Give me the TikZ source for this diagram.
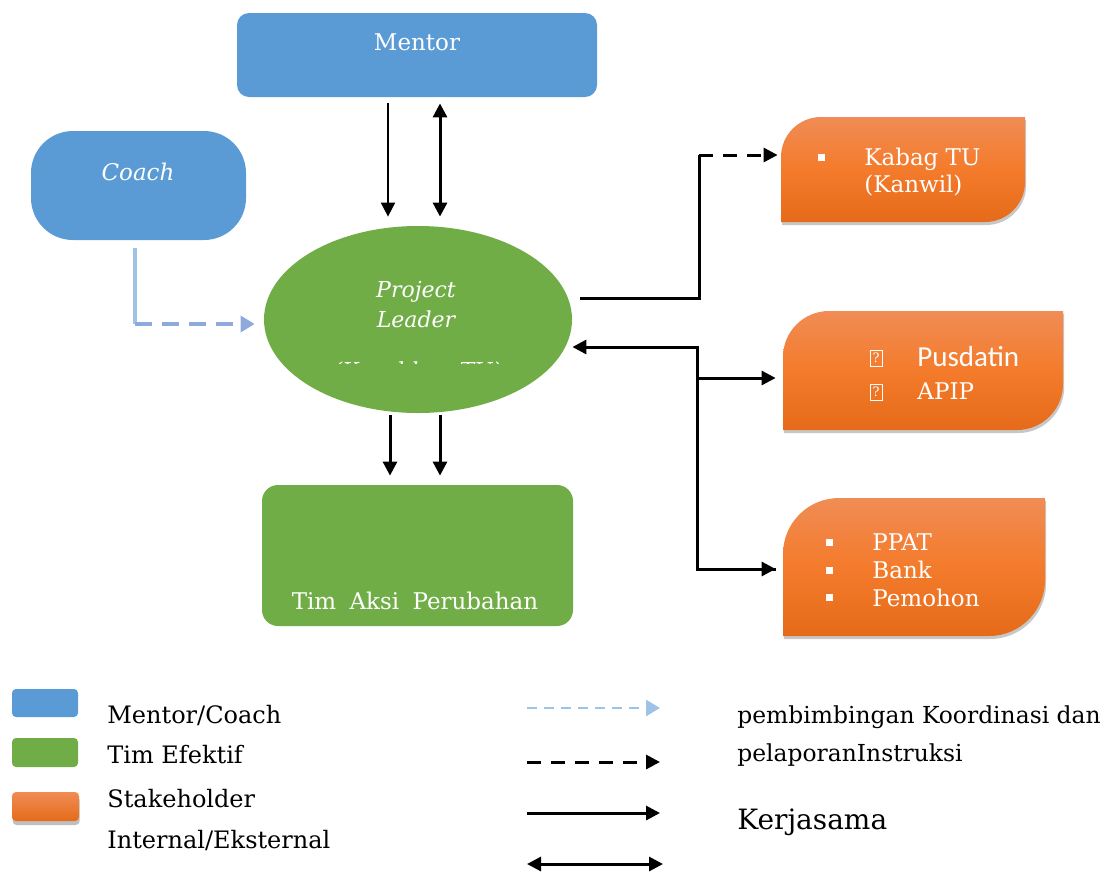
\documentclass[tikz,border=0pt]{standalone}
\usepackage{fontspec}
\setmainfont{DejaVu Serif}
\newfontfamily\calib{Carlito}
\usetikzlibrary{arrows.meta,shadows,shapes.geometric,calc}
\definecolor{mblue}{HTML}{5B9BD5}
\definecolor{mgreen}{HTML}{70AD47}
\definecolor{otop}{HTML}{F08C55}
\definecolor{omid}{HTML}{F47B2B}
\definecolor{obot}{HTML}{E56B1A}
\definecolor{lblue}{HTML}{9DC3E6}
\definecolor{dblue}{HTML}{8EA9DB}
\newcommand\obox[5]{%
  \path[drop shadow={shadow xshift=0.6pt,shadow yshift=-1.5pt,opacity=0.22,fill=black},
        top color=otop, bottom color=obot, middle color=omid]
    (#1,#4) -- (#1,{#2+#5}) arc[start angle=180,end angle=90,radius=#5*0.5pt]
    -- (#3,#2) -- (#3,{#4-#5}) arc[start angle=0,end angle=-90,radius=#5*0.5pt] -- cycle;}
\tikzset{
  bluebox/.style={fill=mblue, rounded corners=6pt, inner sep=0pt},
  greenbox/.style={fill=mgreen, rounded corners=8pt, inner sep=0pt},
  wtxt/.style={text=white, inner sep=0pt, font=\fontsize{11.5}{13}\selectfont},
  btxt/.style={text=black, inner sep=0pt, anchor=base west, font=\fontsize{12}{14}\selectfont},
  anchorbox/.style={inner sep=0pt},
  bul/.style={fill=white, inner sep=0pt, minimum size=3.5pt},
  qbox/.style={draw=white, line width=0.5pt, inner sep=0pt, minimum width=6pt, minimum height=8pt, text=white, font=\fontsize{6.5}{7}\selectfont},
  tip/.style={-{Triangle[length=7pt,width=7pt]}},
  tipb/.style={{Triangle[length=7pt,width=7pt]}-{Triangle[length=7pt,width=7pt]}},
  conn/.style={line width=1.5pt, black},
}
\begin{document}
\begin{tikzpicture}[x=0.5pt,y=-0.5pt]
\useasboundingbox (0,0) rectangle (1112,873);

% Mentor
\node[bluebox, minimum width=180pt, minimum height=42pt] (mentor) at (417,55) {};
\node[wtxt, anchor=base] at (417,50) {Mentor};

% Coach
\node[bluebox, rounded corners=21pt, minimum width=107.5pt, minimum height=54.5pt] (coach) at (138.5,185.5) {};
\node[wtxt, anchor=base, font=\fontsize{11.5}{13}\selectfont\itshape] at (138,180) {Coach};

% Project leader
\node[ellipse, fill=mgreen, minimum width=154pt, minimum height=93.5pt, inner sep=0pt] (leader) at (418,319.5) {};
\node[wtxt, anchor=base, font=\fontsize{11}{13}\selectfont\itshape] at (416,297) {Project};
\node[wtxt, anchor=base, font=\fontsize{11}{13}\selectfont\itshape] at (416,327) {Leader};
\begin{scope}
\clip (320,355) rectangle (520,363.5);
\node[wtxt, anchor=base, font=\fontsize{11}{13}\selectfont\itshape] at (417.5,378.5) {(Kasubbag TU)};
\end{scope}

% Tim aksi perubahan
\node[greenbox, minimum width=155.5pt, minimum height=70.5pt] (tim) at (417.5,555.5) {};
\node[wtxt, anchor=base] at (415,609) {Tim\hspace{3pt} Aksi\hspace{3pt} Perubahan};

% Orange boxes
\obox{781}{117}{1025}{222}{40}
\node[anchorbox, minimum width=122pt, minimum height=52.5pt] (kabag) at (903,169.5) {};
\node[bul] at (821,157) {};
\node[wtxt, anchor=base west] at (864,165) {Kabag TU};
\node[wtxt, anchor=base west] at (864,192) {(Kanwil)};

\obox{783}{311}{1063}{430}{46}
\node[anchorbox, minimum width=140pt, minimum height=59.5pt] (pusdatin) at (923,370.5) {};
\node[qbox] at (876,358) {?};
\node[qbox] at (876,392) {?};
\node[wtxt, anchor=base west, font=\fontsize{14.5}{16}\calib] at (917,366) {Pusdatin};
\node[wtxt, anchor=base west] at (917,399) {APIP};

\obox{783}{498}{1045}{636}{56}
\node[anchorbox, minimum width=131pt, minimum height=69pt] (ppat) at (914,567) {};
\node[bul] at (829,542) {};
\node[bul] at (829,570) {};
\node[bul] at (829,597) {};
\node[wtxt, anchor=base west] at (872,550) {PPAT};
\node[wtxt, anchor=base west] at (872,578) {Bank};
\node[wtxt, anchor=base west] at (872,606) {Pemohon};

% Connectors
\draw[tip, line width=1pt] ([xshift=-14.5pt,yshift=-3pt]mentor.south) -- ([xshift=-15pt,yshift=4.5pt]leader.north);
\draw[tipb, conn] ([xshift=11.5pt,yshift=-3pt]mentor.south) -- ([xshift=11pt,yshift=4.5pt]leader.north);

\draw[tip, conn] ([xshift=-14pt,yshift=-1pt]leader.south) -- ([xshift=-13.75pt,yshift=4.5pt]tim.north);
\draw[tip, conn] ([xshift=11pt,yshift=-1pt]leader.south) -- ([xshift=11.25pt,yshift=4.5pt]tim.north);

\coordinate (cc) at (135,324);
\draw[lblue, line width=2pt] ([xshift=-1.75pt,yshift=-4pt]coach.south) -- (cc);
\draw[dblue, line width=2pt, dash pattern=on 8.5pt off 5pt, -{Triangle[length=7pt,width=8pt]}] (cc) -- ([xshift=-4.5pt,yshift=-2.25pt]leader.west);

\coordinate (k0) at (699,298);
\coordinate (k1) at (699,155);
\draw[conn] ([xshift=4pt,yshift=10.75pt]leader.east) -- (k0) -- (k1);
\draw[conn, dash pattern=on 7pt off 5pt, tip] (k1) -- ([xshift=-1.5pt,yshift=7.25pt]kabag.west);

\coordinate (j1) at (697,347);
\coordinate (j2) at (697,378);
\coordinate (j3) at (697,569);
\draw[conn, {Triangle[length=7pt,width=7pt]}-] ([yshift=-13.75pt]leader.east) -- (j1) -- (j3) -- ([xshift=-3.5pt,yshift=-1pt]ppat.west);
\draw[conn, tip] (j2) -- ([xshift=-3.5pt,yshift=-3.75pt]pusdatin.west);
\draw[conn, tip] (j3) -- ([xshift=-3.5pt,yshift=-1pt]ppat.west);

% Legend boxes
\node[fill=mblue, rounded corners=2pt, minimum width=33pt, minimum height=14pt, inner sep=0pt] (lg1) at (45,703) {};
\node[fill=mgreen, rounded corners=2pt, minimum width=33pt, minimum height=14.5pt, inner sep=0pt] (lg2) at (45,752.5) {};
\node[rounded corners=2pt, minimum width=33.5pt, minimum height=14.5pt, inner sep=0pt, top color=otop, bottom color=obot,
  drop shadow={shadow xshift=0.3pt,shadow yshift=-2pt,opacity=0.25,fill=black}] (lg3) at (45.5,806.5) {};
\node[btxt] at (107,723) {Mentor/Coach};
\node[btxt] at (107,763) {Tim Efektif};
\node[btxt] at (107,807) {Stakeholder};
\node[btxt] at (107,848) {Internal/Eksternal};

% Legend arrows
\coordinate (a1s) at (527,708); \coordinate (a1e) at (660,708);
\coordinate (a2s) at (527,762); \coordinate (a2e) at (660,762);
\coordinate (a3s) at (527,813); \coordinate (a3e) at (660,813);
\coordinate (a4s) at (527,864); \coordinate (a4e) at (663,864);
\draw[lblue, line width=1.4pt, dash pattern=on 5pt off 3.5pt, -{Triangle[length=7pt,width=8pt]}] (a1s) -- (a1e);
\draw[conn, dash pattern=on 7pt off 5pt, tip] (a2s) -- (a2e);
\draw[conn, tip] (a3s) -- (a3e);
\draw[conn, tipb] (a4s) -- (a4e);
\node[btxt, font=\fontsize{11.7}{14}\selectfont] at (737,723) {pembimbingan Koordinasi dan};
\node[btxt, font=\fontsize{11.7}{14}\selectfont] at (737,761) {pelaporanInstruksi};
\node[btxt, font=\fontsize{14}{16}\selectfont] at (737,829) {Kerjasama};
\end{tikzpicture}
\end{document}
